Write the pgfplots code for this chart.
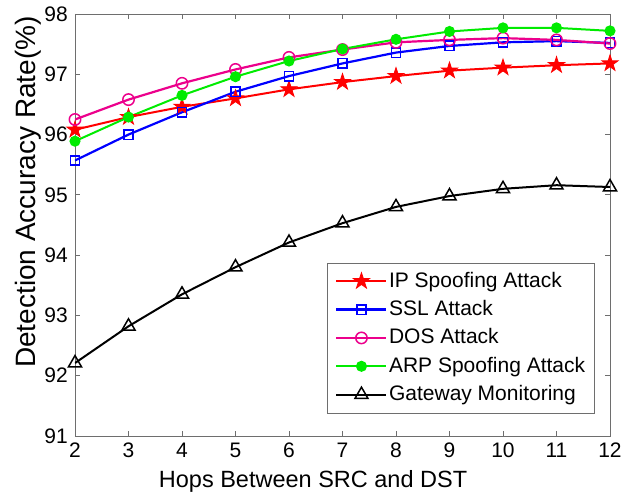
\documentclass[border=0pt]{standalone}
\usepackage{pgfplots}
\pgfplotsset{compat=1.18}
\usetikzlibrary{calc}
\usepackage{fontspec}
\setmainfont{Liberation Sans}
\definecolor{mgreen}{RGB}{0,235,0}
\definecolor{axgray}{RGB}{110,110,110}
\pgfdeclareplotmark{pentagram}{%
  \pgfpathmoveto{\pgfpointpolar{90}{\pgfplotmarksize}}%
  \pgfpathlineto{\pgfpointpolar{126}{0.382\pgfplotmarksize}}%
  \pgfpathlineto{\pgfpointpolar{162}{\pgfplotmarksize}}%
  \pgfpathlineto{\pgfpointpolar{198}{0.382\pgfplotmarksize}}%
  \pgfpathlineto{\pgfpointpolar{234}{\pgfplotmarksize}}%
  \pgfpathlineto{\pgfpointpolar{270}{0.382\pgfplotmarksize}}%
  \pgfpathlineto{\pgfpointpolar{306}{\pgfplotmarksize}}%
  \pgfpathlineto{\pgfpointpolar{342}{0.382\pgfplotmarksize}}%
  \pgfpathlineto{\pgfpointpolar{18}{\pgfplotmarksize}}%
  \pgfpathlineto{\pgfpointpolar{54}{0.382\pgfplotmarksize}}%
  \pgfpathclose
  \pgfusepathqfillstroke
}
\begin{document}
\fontsize{21}{25}\selectfont
\begin{tikzpicture}
\begin{axis}[
 scale only axis, width=535pt, height=422pt,
 xmin=2, xmax=12, ymin=91, ymax=98,
 xtick={2,...,12}, ytick={91,...,98},
 tick align=inside, major tick length=5pt,
 axis line style={axgray, line width=0.7pt},
 tick style={axgray, line width=0.7pt},
 xlabel={Hops Between SRC and DST},
 ylabel={Detection Accuracy Rate(\%)},
 xlabel style={at={(axis description cs:0.445,-0.123)}, anchor=base, font=\fontsize{23.5}{28}\selectfont},
 ylabel style={at={(axis description cs:-0.073,0.578)}, anchor=base, font=\fontsize{28}{32}\selectfont},
 ticklabel style={font=\fontsize{21}{25}\selectfont},
 /pgf/number format/assume math mode=true,
 legend style={at={(0.972,0.054)}, anchor=south east, font=\fontsize{21}{25}\selectfont, draw=axgray, line width=0.7pt, row sep=7pt, inner xsep=8pt, inner ysep=7.5pt,
   nodes={inner sep=1.5pt}},
 legend cell align=left,
 legend image code/.code={\draw[mark repeat=2,mark phase=2] plot coordinates {(0pt,0pt) (25pt,0pt) (50pt,0pt)};},
]
\addplot[red, line width=2pt, mark=pentagram, mark options={fill=red, solid, line width=0.8pt}, mark size=8.5pt] coordinates {
(2,96.08) (3,96.29) (4,96.46) (5,96.60) (6,96.75) (7,96.87) (8,96.97) (9,97.06) (10,97.11) (11,97.15) (12,97.18)};
\addlegendentry{IP Spoofing Attack}
\addplot[blue, line width=2.2pt, mark=square, mark options={solid, line width=1.5pt}, mark size=4.7pt] coordinates {
(2,95.57) (3,96.00) (4,96.37) (5,96.71) (6,96.97) (7,97.18) (8,97.36) (9,97.47) (10,97.53) (11,97.55) (12,97.52)};
\addlegendentry{SSL Attack}
\addplot[magenta, line width=2.2pt, mark=o, mark options={solid, line width=1.5pt}, mark size=5.7pt] coordinates {
(2,96.25) (3,96.58) (4,96.85) (5,97.08) (6,97.28) (7,97.41) (8,97.53) (9,97.57) (10,97.60) (11,97.57) (12,97.51)};
\addlegendentry{DOS Attack}
\addplot[mgreen, line width=2pt, mark=*, mark options={fill=mgreen, draw=mgreen}, mark size=4.5pt] coordinates {
(2,95.89) (3,96.29) (4,96.65) (5,96.96) (6,97.22) (7,97.42) (8,97.58) (9,97.71) (10,97.77) (11,97.77) (12,97.72)};
\addlegendentry{ARP Spoofing Attack}
\addplot[black, line width=2pt, mark=triangle, mark options={solid, line width=1.5pt}, mark size=7.5pt] coordinates {
(2,92.21) (3,92.82) (4,93.35) (5,93.80) (6,94.21) (7,94.53) (8,94.80) (9,94.98) (10,95.10) (11,95.16) (12,95.13)};
\addlegendentry{Gateway Monitoring}
\end{axis}
\pgfresetboundingbox
\path[use as bounding box] ($(current axis.south west)+(-75pt,-59pt)$) rectangle ($(current axis.north east)+(25pt,14pt)$);
\end{tikzpicture}
\end{document}
